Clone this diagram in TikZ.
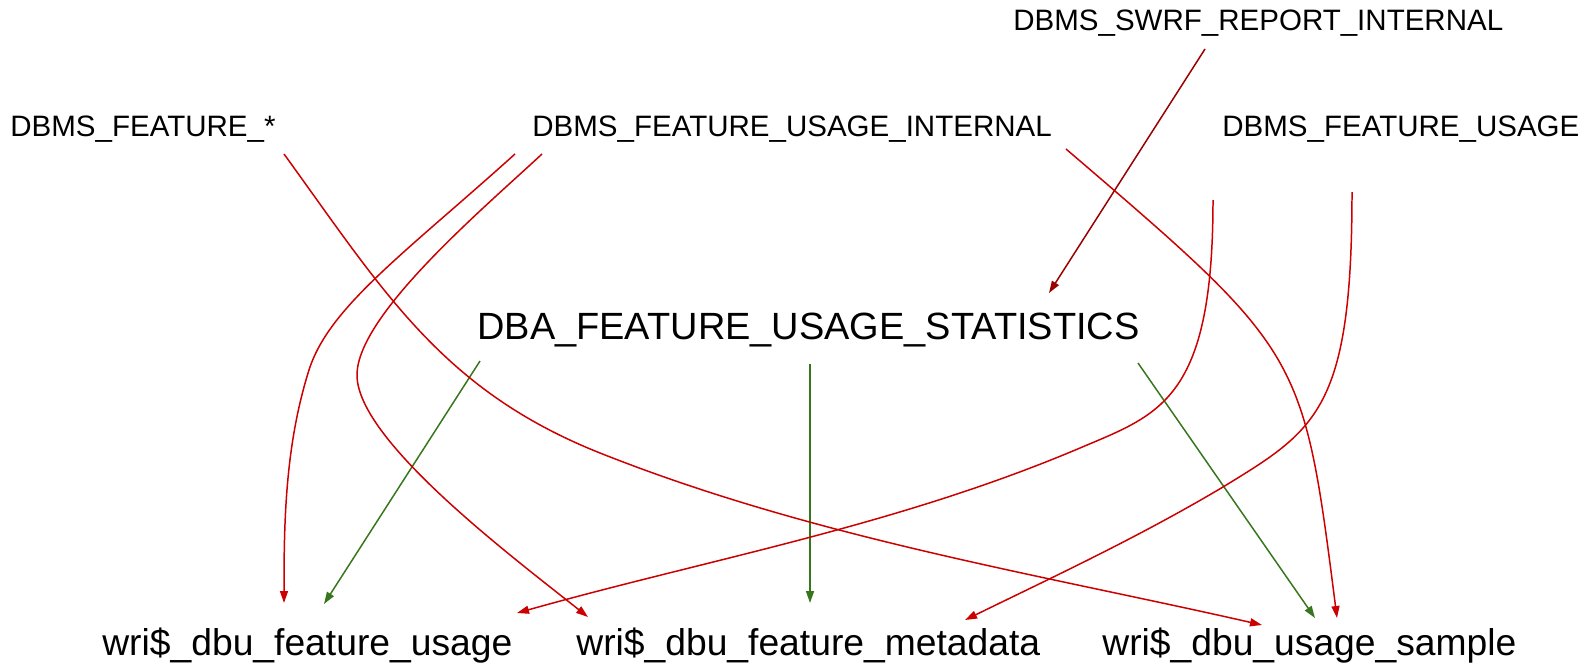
\documentclass[tikz,border=0pt]{standalone}
\usepackage{fontspec}
\setmainfont{Liberation Sans}
\usetikzlibrary{arrows.meta}

\definecolor{deprd}{HTML}{CC0000}
\definecolor{viewgr}{HTML}{38761D}
\definecolor{swrfrd}{HTML}{990000}

\begin{document}
\begin{tikzpicture}[x=0.02cm, y=-0.02cm,
    pkg/.style={anchor=base west, inner sep=0, font=\fontsize{16.8}{20}\selectfont},
    tbl/.style={anchor=base west, inner sep=0, font=\fontsize{21.2}{25}\selectfont},
    dep/.style={draw=#1, line width=0.85pt, -{Triangle[length=2.4mm, width=1.6mm]}},
    dep/.default=deprd]
    \useasboundingbox (0, 0) rectangle (1595, 669);

    % packages
    \node[pkg] (swrf) at (1013, 31) {DBMS\_SWRF\_REPORT\_INTERNAL};
    \node[pkg] (fstar) at (10, 136) {DBMS\_FEATURE\_*};
    \node[pkg] (fuint) at (532, 136) {DBMS\_FEATURE\_USAGE\_INTERNAL};
    \node[pkg] (fusage) at (1222, 136) {DBMS\_FEATURE\_USAGE};

    % view and tables
    \node[tbl, font=\fontsize{21.6}{25}\selectfont] (stats) at (477, 339) {DBA\_FEATURE\_USAGE\_STATISTICS};
    \node[tbl] (wfu) at (102, 655) {wri\$\_dbu\_feature\_usage};
    \node[tbl] (wfm) at (576, 655) {wri\$\_dbu\_feature\_metadata};
    \node[tbl] (wus) at (1102, 655) {wri\$\_dbu\_usage\_sample};

    \draw[dep=swrfrd]([shift={(192, 18)}]swrf.base west)--([shift={(572, -46)}]stats.base west);

    \draw[dep=viewgr]([shift={(3, 22)}]stats.base west)--([shift={(222, -51)}]wfu.base west);
    \draw[dep=viewgr]([shift={(333, 25)}]stats.base west)--([shift={(234, -52)}]wfm.base west);
    \draw[dep=viewgr]([shift={(661, 24)}]stats.base west)--([shift={(213, -37)}]wus.base west);

    \draw[dep]([shift={(274, 18)}]fstar.base west)
        .. controls (384, 292) and (442, 390) .. (600, 453)
        .. controls (814, 538) and (1038, 574) .. ([shift={(160, -30)}]wus.base west);
    \draw[dep]([shift={(-17, 18)}]fuint.base west)
        .. controls (404, 254) and (329, 307) .. (309, 370)
        .. controls (285, 446) and (284, 523) .. ([shift={(182, -52)}]wfu.base west);
    \draw[dep]([shift={(10, 18)}]fuint.base west)
        .. controls (484, 208) and (357, 315) .. (357, 375)
        .. controls (357, 440) and (510, 555) .. ([shift={(12, -38)}]wfm.base west);
    \draw[dep]([shift={(534, 13)}]fuint.base west)
        .. controls (1303, 352) .. ([shift={(235, -37)}]wus.base west);
    \draw[dep]([shift={(-9, 64)}]fusage.base west)
        .. controls (1213, 400) and (1160, 414) .. (1080, 448)
        .. controls (896, 526) and (709, 559) .. ([shift={(415, -42)}]wfu.base west);
    \draw[dep]([shift={(130, 56)}]fusage.base west)
        .. controls (1352, 410) and (1316, 430) .. (1223, 487)
        .. controls (1137, 538) and (1055, 576) .. ([shift={(389, -35)}]wfm.base west);
\end{tikzpicture}
\end{document}
